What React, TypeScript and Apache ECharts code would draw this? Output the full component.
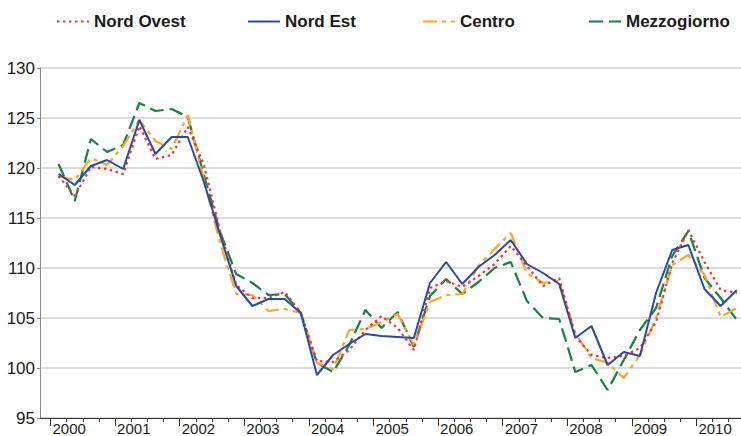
import React, { useEffect, useRef } from "react";
import * as echarts from "echarts";

// Quarterly data, 2000 Q1 .. 2010 Q3
const START_YEAR = 2000;
const yearTicks = [2000, 2001, 2002, 2003, 2004, 2005, 2006, 2007, 2008, 2009, 2010];

const seriesNames = ["Nord Ovest", "Nord Est", "Centro", "Mezzogiorno"];

const nordOvest = [
  119.2, 117.2, 120.1, 119.9,
  119.4, 124.2, 120.9, 121.3,
  124.1, 120.3, 113.7, 108.3,
  107.0, 107.0, 107.6, 105.5,
  100.7, 100.6, 101.8, 103.8,
  105.2, 104.0, 101.8, 108.0,
  108.7, 108.1, 109.2, 110.4,
  112.2, 110.2, 108.2, 109.0,
  103.2, 101.3, 101.0, 101.2,
  102.0, 104.6, 110.5, 113.8,
  110.6, 107.8, 107.5,
];

const nordEst = [
  119.4, 118.3, 120.2, 120.8,
  119.9, 124.8, 121.4, 123.1,
  123.1, 118.6, 113.3, 108.2,
  106.2, 106.9, 106.9, 105.5,
  99.3, 101.3, 102.4, 103.4,
  103.2, 103.1, 103.0, 108.5,
  110.6, 108.4, 110.1, 111.3,
  112.8, 110.4, 109.5, 108.4,
  103.0, 104.2, 100.3, 101.6,
  101.2, 107.5, 111.8, 112.3,
  107.9, 106.2, 107.8,
];

const centro = [
  119.2, 118.8, 121.0, 120.3,
  122.2, 124.8, 122.7, 121.9,
  125.3, 118.8, 112.5, 107.4,
  107.3, 105.7, 105.9, 105.5,
  100.5, 99.9, 103.8, 103.9,
  104.6, 105.4, 102.3, 106.6,
  107.3, 107.4, 110.2, 111.9,
  113.5, 109.5, 108.5, 108.7,
  103.5, 101.0, 100.5, 99.0,
  101.3, 105.0, 110.3, 111.3,
  109.3, 105.1, 106.0,
];

const mezzogiorno = [
  120.4, 116.7, 122.9, 121.6,
  122.3, 126.5, 125.7, 125.9,
  125.1, 119.3, 113.6, 109.4,
  108.5, 107.3, 107.4, 105.5,
  100.5, 99.6, 102.3, 105.8,
  104.0, 105.6, 102.1, 107.2,
  108.9, 107.4, 108.6, 110.0,
  110.6, 106.7, 105.0, 104.9,
  99.6, 100.3, 97.8, 100.8,
  103.8, 106.0, 111.2, 113.7,
  109.0, 107.0, 104.8,
];

const quarterPos = (i: number) => START_YEAR + (i + 0.5) / 4;
const toPairs = (vals: number[]) => vals.map((v, i) => [quarterPos(i), v]);

const quarterTicks: number[] = [];
for (let k = 1; k < 43; k++) {
  if (k % 4 !== 0) quarterTicks.push(START_YEAR + k / 4);
}

const FONT = "'Liberation Sans', Arial, sans-serif";

export default function App() {
  const ref = useRef<HTMLDivElement>(null);
  useEffect(() => {
    if (!ref.current) return;
    const chart = echarts.init(ref.current, null, { renderer: "svg" });
    const xMin = 1999.837;
    const xMax = 2010.69;
    const legendBase = {
      top: 8,
      itemWidth: 32,
      itemHeight: 14,
      itemGap: 0,
      itemStyle: { opacity: 0 },
      textStyle: { fontSize: 17, fontWeight: "bold", color: "#1a1a1a", fontFamily: FONT },
    };
    chart.setOption({
      animation: false,
      backgroundColor: "#ffffff",
      legend: [
        { ...legendBase, left: 51, data: [seriesNames[0]] },
        { ...legendBase, left: 242, data: [seriesNames[1]] },
        { ...legendBase, left: 417, data: [seriesNames[2]] },
        { ...legendBase, left: 583, data: [seriesNames[3]] },
      ],
      grid: { left: 40, right: 0, top: 68, bottom: 18, containLabel: false },
      xAxis: [
        {
          type: "value",
          min: xMin,
          max: xMax,
          position: "bottom",
          axisLine: { show: true, lineStyle: { color: "#333333", width: 1 } },
          axisTick: { show: true, customValues: yearTicks, length: 8, lineStyle: { color: "#333333" } },
          axisLabel: {
            customValues: yearTicks,
            formatter: (v: number) => String(Math.round(v)),
            align: "left",
            margin: 3,
            padding: [0, 0, 0, 2],
            fontSize: 15,
            color: "#1a1a1a",
            fontFamily: FONT,
          },
          splitLine: { show: false },
        },
        {
          type: "value",
          min: xMin,
          max: xMax,
          position: "bottom",
          axisLine: { show: false },
          axisTick: { show: true, customValues: quarterTicks, length: 4, lineStyle: { color: "#333333" } },
          axisLabel: { show: false },
          splitLine: { show: false },
        },
      ],
      yAxis: {
        type: "value",
        min: 95,
        max: 130,
        interval: 5,
        axisLine: { show: true, lineStyle: { color: "#8a8a8a", width: 1 } },
        axisTick: { show: true, length: 3, lineStyle: { color: "#8a8a8a" } },
        axisLabel: {
          margin: 5,
          fontSize: 17,
          color: "#1a1a1a",
          fontFamily: FONT,
          formatter: (v: number) => String(v),
        },
        splitLine: { show: true, lineStyle: { color: "#d0d0d0", width: 1.5 } },
      },
      series: [
        {
          name: seriesNames[3],
          type: "line",
          data: toPairs(mezzogiorno),
          symbol: "none",
          itemStyle: { color: "#1a7f42" },
          lineStyle: { color: "#1a7f42", width: 2.2, type: [14, 6] },
        },
        {
          name: seriesNames[2],
          type: "line",
          data: toPairs(centro),
          symbol: "none",
          itemStyle: { color: "#f7a52f" },
          lineStyle: { color: "#f7a52f", width: 2.2, type: [14, 5, 4, 5] },
        },
        {
          name: seriesNames[0],
          type: "line",
          data: toPairs(nordOvest),
          symbol: "none",
          itemStyle: { color: "#e8383a" },
          lineStyle: { color: "#e8383a", width: 2.2, type: [2.5, 3.5] },
        },
        {
          name: seriesNames[1],
          type: "line",
          data: toPairs(nordEst),
          symbol: "none",
          itemStyle: { color: "#2b49a0" },
          lineStyle: { color: "#2b49a0", width: 2 },
        },
      ],
    });
    return () => chart.dispose();
  }, []);
  return (
    <div
      ref={ref}
      style={{ position: "absolute", left: 0, top: 0, width: 741, height: 436 }}
    />
  );
}
